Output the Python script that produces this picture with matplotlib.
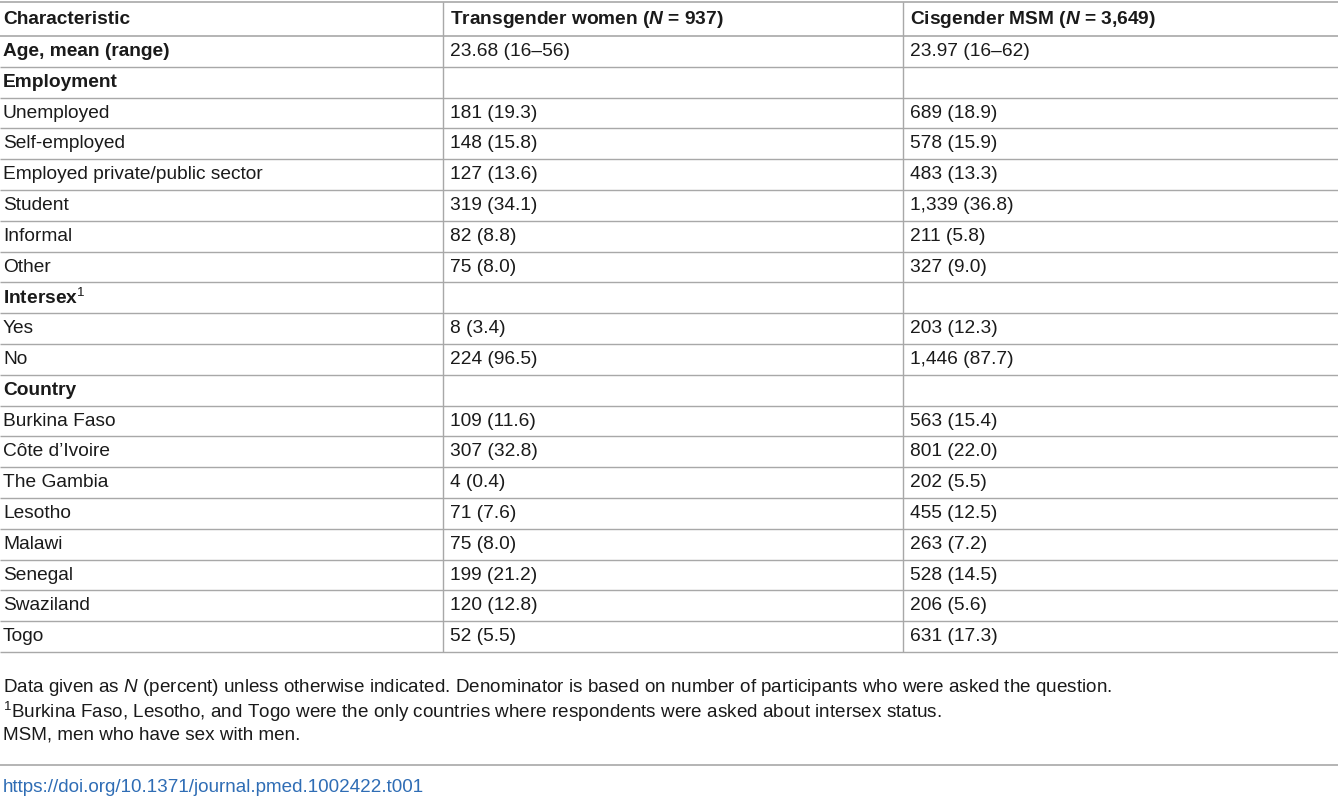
import matplotlib
matplotlib.use("Agg")
import matplotlib.pyplot as plt

plt.rcParams['font.family'] = ['Liberation Sans', 'DejaVu Sans']
plt.rcParams['mathtext.fontset'] = 'custom'
plt.rcParams['mathtext.rm'] = 'Liberation Sans'
plt.rcParams['mathtext.it'] = 'Liberation Sans:italic'
plt.rcParams['mathtext.bf'] = 'Liberation Sans:bold'
plt.rcParams['mathtext.bfit'] = 'Liberation Sans:italic:bold'

headers = ["Characteristic", r"Transgender women ($\mathbfit{N}$ = 937)", r"Cisgender MSM ($\mathbfit{N}$ = 3,649)"]
characteristics = ["Age, mean (range)", "Employment", "Unemployed", "Self-employed",
                   "Employed private/public sector", "Student", "Informal", "Other",
                   r"Intersex$^{1}$", "Yes", "No", "Country", "Burkina Faso", "Côte d’Ivoire",
                   "The Gambia", "Lesotho", "Malawi", "Senegal", "Swaziland", "Togo"]
bold_rows = ["Age, mean (range)", "Employment", r"Intersex$^{1}$", "Country"]
transgender = ["23.68 (16–56)", "", "181 (19.3)", "148 (15.8)", "127 (13.6)", "319 (34.1)",
               "82 (8.8)", "75 (8.0)", "", "8 (3.4)", "224 (96.5)", "", "109 (11.6)",
               "307 (32.8)", "4 (0.4)", "71 (7.6)", "75 (8.0)", "199 (21.2)", "120 (12.8)", "52 (5.5)"]
cisgender = ["23.97 (16–62)", "", "689 (18.9)", "578 (15.9)", "483 (13.3)", "1,339 (36.8)",
             "211 (5.8)", "327 (9.0)", "", "203 (12.3)", "1,446 (87.7)", "", "563 (15.4)",
             "801 (22.0)", "202 (5.5)", "455 (12.5)", "263 (7.2)", "528 (14.5)", "206 (5.6)", "631 (17.3)"]
footnotes = [r"Data given as $N$ (percent) unless otherwise indicated. Denominator is based on number of participants who were asked the question.",
             r"$^{1}$Burkina Faso, Lesotho, and Togo were the only countries where respondents were asked about intersex status.",
             "MSM, men who have sex with men."]
doi = "https://doi.org/10.1371/journal.pmed.1002422.t001"

W, H = 1338, 800
fig = plt.figure(figsize=(W/100, H/100), dpi=100)
ax = fig.add_axes([0, 0, 1, 1])
ax.set_xlim(0, W); ax.set_ylim(H, 0); ax.axis('off')

tc = '#1a1a1a'; lc = '#a8a8a8'; fs = 13.8
colx = [3, 450, 910]
vlines = [443, 903]
top, head_bot, row_h = 2, 36, 30.8
n = len(characteristics)
bottom = head_bot + n * row_h

ax.hlines([top, head_bot], 0, W, color=lc, lw=1.2)
for i in range(n):
    ax.hlines(head_bot + (i + 1) * row_h, 0, W, color=lc, lw=1.0)
ax.vlines(vlines, top, bottom, color=lc, lw=1.0)

yc = (top + head_bot) / 2
for x, h in zip(colx, headers):
    ax.text(x, yc, h, fontsize=fs, fontweight='bold', color=tc, va='center')

for i in range(n):
    y = head_bot + (i + 0.5) * row_h
    c = characteristics[i]
    ax.text(colx[0], y, c, fontsize=fs, color=tc, va='center',
            fontweight='bold' if c in bold_rows else 'normal')
    ax.text(colx[1], y, transgender[i], fontsize=fs, color=tc, va='center')
    ax.text(colx[2], y, cisgender[i], fontsize=fs, color=tc, va='center')

for j, f in enumerate(footnotes):
    ax.text(3, 688 + j * 23.5, f, fontsize=13.6, color=tc, va='center')
ax.hlines(765, 0, W, color=lc, lw=1.2)
ax.text(3, 787, doi, fontsize=13.6, color='#2f6db5', va='center')

fig.savefig("out.png", dpi=100)
